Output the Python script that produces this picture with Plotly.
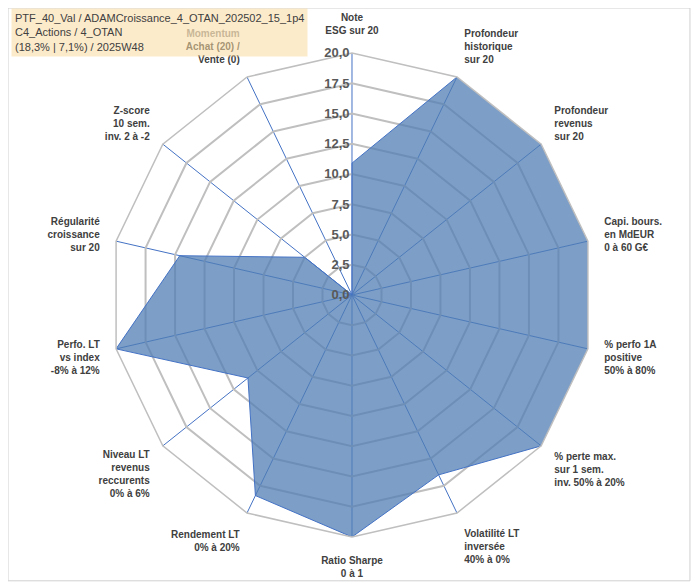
import plotly.graph_objects as go

# Axes of the radar (clockwise from top)
categories = [
    "Note<br>ESG sur 20",
    "Profondeur<br>historique<br>sur 20",
    "Profondeur<br>revenus<br>sur 20",
    "Capi. bours.<br>en MdEUR<br>0 à 60 G€",
    "% perfo 1A<br>positive<br>50% à 80%",
    "% perte max.<br>sur 1 sem.<br>inv. 50% à 20%",
    "Volatilité LT<br>inversée<br>40% à 0%",
    "Ratio Sharpe<br>0 à 1",
    "Rendement LT<br>0% à 20%",
    "Niveau LT<br>revenus<br>reccurents<br>0% à 6%",
    "Perfo. LT<br>vs index<br>-8% à 12%",
    "Régularité<br>croissance<br>sur 20",
    "Z-score<br>10 sem.<br>inv. 2 à -2",
    "<span style='color:#8C8C8C'>Momentum</span><br>Achat (20) /<br>Vente (0)",
]
scores = [10.9, 20, 20, 20, 20, 20, 16.5, 20, 18.4, 11.0, 20, 14.6, 5.0, 0]

radial_ticks = [0, 2.5, 5, 7.5, 10, 12.5, 15, 17.5, 20]

title_lines = [
    "PTF_40_Val / ADAMCroissance_4_OTAN_202502_15_1p4",
    "C4_Actions / 4_OTAN",
    "(18,3% | 7,1%) / 2025W48",
]

fig = go.Figure()
fig.add_trace(go.Scatterpolar(
    r=scores + scores[:1],
    theta=categories + categories[:1],
    mode="lines",
    fill="toself",
    fillcolor="rgba(80,125,180,0.75)",
    line=dict(color="#4472C4", width=1),
    hoverinfo="skip",
))

# page body adds an 8px margin, so the figure is 8px smaller than the window
fig.update_layout(
    width=692,
    height=578,
    paper_bgcolor="white",
    plot_bgcolor="white",
    separators=", ",
    showlegend=False,
    margin=dict(l=0, r=0, t=0, b=0),
    polar=dict(
        domain=dict(x=[0.1474, 0.8468], y=[0.0848, 0.9221]),
        gridshape="linear",
        bgcolor="white",
        radialaxis=dict(
            range=[0, 20],
            tickvals=radial_ticks,
            tickformat=".1f",
            ticksuffix="\u00a0\u00a0\u00a0",
            angle=90,
            tickangle=90,
            side="counterclockwise",
            showline=False,
            ticks="",
            gridcolor="#BFBFBF",
            gridwidth=1.5,
            tickfont=dict(family="Liberation Sans", size=13, color="#595959", weight="bold"),
        ),
        angularaxis=dict(
            rotation=90,
            direction="clockwise",
            showline=True,
            linecolor="#BFBFBF",
            linewidth=1.5,
            gridcolor="#4472C4",
            gridwidth=1,
            ticks="outside",
            ticklen=14,
            tickcolor="rgba(0,0,0,0)",
            tickfont=dict(family="Liberation Sans", size=10, color="#404040", weight="bold"),
        ),
    ),
    font=dict(family="Liberation Sans"),
)

# Title box in the top-left corner (slightly see-through, as in the original)
fig.add_annotation(
    text="<br>".join(title_lines),
    xref="paper", yref="paper",
    x=0.0043, y=1.0,
    xanchor="left", yanchor="top",
    align="left",
    showarrow=False,
    bgcolor="rgba(250,218,160,0.55)",
    borderpad=3,
    font=dict(family="Liberation Sans", size=11, color="#404040"),
)

# Chart outline
fig.add_shape(
    type="rect", xref="paper", yref="paper",
    x0=0.0, y0=0.009, x1=0.9855, y1=1.0,
    line=dict(color="#D0D0D0", width=1),
)

fig.write_html("out.html")
